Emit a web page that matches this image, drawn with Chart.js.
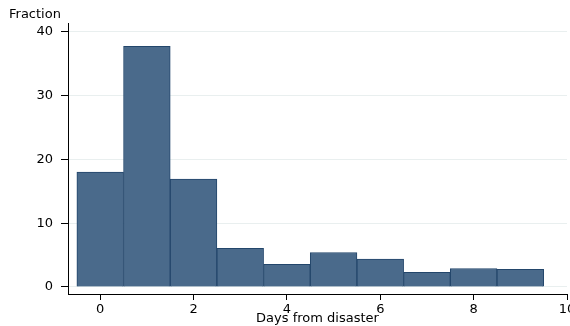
<!DOCTYPE html>
<html lang="en">
  <head>
    <meta charset="UTF-8" />
    <title>Days from disaster</title>
    <style>
      body {
        margin: 0;
        background-color: #fff;
      }
      .chart-container {
        width: 570px;
        height: 326px;
      }
    </style>
  </head>
  <body>
    <div class="chart-container">
      <canvas id="histChart"></canvas>
    </div>
    <script src="https://cdn.jsdelivr.net/npm/chart.js"></script>
    <script>
      const days = [0, 1, 2, 3, 4, 5, 6, 7, 8, 9];
      const fractions = [18, 37.7, 16.9, 6.05, 3.55, 5.4, 4.37, 2.3, 2.9, 2.75];
      const xTicks = [0, 2, 4, 6, 8, 10];
      const yTicks = [0, 10, 20, 30, 40];

      const font = { family: "DejaVu Sans, sans-serif", size: 13 };

      const histChart = new Chart(document.getElementById("histChart"), {
        type: "bar",
        data: {
          datasets: [
            {
              label: "Fraction",
              data: days.map((d, i) => ({ x: d, y: fractions[i] })),
              backgroundColor: "#4a6a8b",
              borderColor: "#23466b",
              borderWidth: 1,
              barPercentage: 1,
              categoryPercentage: 1,
            },
          ],
        },
        options: {
          responsive: true,
          maintainAspectRatio: false,
          animation: false,
          layout: { padding: { left: 9, right: 3, top: 0, bottom: 0 } },
          plugins: {
            legend: { display: false },
            tooltip: { enabled: false },
            title: {
              display: true,
              text: "Fraction",
              align: "start",
              color: "#000",
              font: { ...font, weight: "normal" },
              padding: { top: 7, bottom: 1 },
            },
          },
          scales: {
            x: {
              type: "linear",
              offset: false,
              min: -0.69,
              max: 10,
              afterBuildTicks: (s) => {
                s.ticks = xTicks.map((v) => ({ value: v }));
              },
              afterFit: (s) => {
                s.paddingRight = 0;
                s.paddingLeft = 0;
                s.height = 32;
              },
              border: { color: "#000", width: 1 },
              grid: {
                offset: false,
                drawOnChartArea: false,
                drawTicks: true,
                tickLength: 6,
                tickColor: "#000",
              },
              ticks: { color: "#000", font, padding: 2, maxRotation: 0 },
              title: {
                display: true,
                text: "Days from disaster",
                color: "#000",
                font,
                padding: { top: 0, bottom: 0 },
              },
            },
            y: {
              min: -1.1,
              max: 41.25,
              afterBuildTicks: (s) => {
                s.ticks = yTicks.map((v) => ({ value: v }));
              },
              afterFit: (s) => {
                s.width = 59;
              },
              border: { color: "#000", width: 1 },
              grid: {
                color: "#e9efef",
                drawTicks: true,
                tickLength: 7,
                tickColor: "#000",
              },
              ticks: { color: "#000", font, padding: 8 },
            },
          },
        },
      });
    </script>
  </body>
</html>
